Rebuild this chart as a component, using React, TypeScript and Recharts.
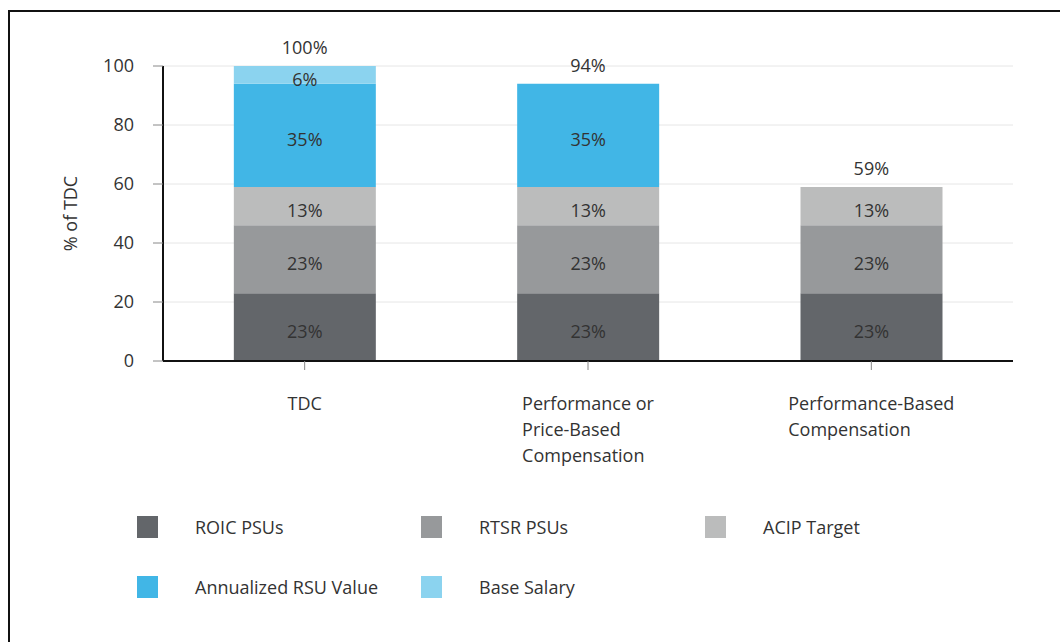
import React from 'react';
import { ComposedChart, Bar, Line, XAxis, YAxis, CartesianGrid, LabelList } from 'recharts';

// categories and their wrapped axis labels
const categories = ['TDC', 'Performance or Price-Based Compensation', 'Performance-Based Compensation'];
const categoryLines = [['TDC'], ['Performance or', 'Price-Based', 'Compensation'], ['Performance-Based', 'Compensation']];

// stacked segments, % of TDC (bottom to top)
const roicPsus = [23, 23, 23];
const rtsrPsus = [23, 23, 23];
const acipTarget = [13, 13, 13];
const rsuValue = [35, 35, 0];
const baseSalary = [6, 0, 0];
const totals = [100, 94, 59];

const yTicks = [0, 20, 40, 60, 80, 100];

const series = [
  { key: 'roic', name: 'ROIC PSUs', values: roicPsus, color: '#63666a' },
  { key: 'rtsr', name: 'RTSR PSUs', values: rtsrPsus, color: '#97999b' },
  { key: 'acip', name: 'ACIP Target', values: acipTarget, color: '#bbbcbc' },
  { key: 'rsu', name: 'Annualized RSU Value', values: rsuValue, color: '#41b6e6' },
  { key: 'base', name: 'Base Salary', values: baseSalary, color: '#8bd3ef' },
];

const data = categories.map((c, i) => {
  const row: any = { name: c, total: totals[i] };
  series.forEach(s => { row[s.key] = s.values[i]; });
  return row;
});

const FONT = '"Open Sans", sans-serif';
const TEXT = '#333';

let ctx: CanvasRenderingContext2D | null = null;
const measure = (t: string) => {
  if (!ctx) ctx = document.createElement('canvas').getContext('2d');
  if (!ctx) return t.length * 9;
  ctx.font = '18px "Open Sans"';
  return ctx.measureText(t).width;
};

const CategoryTick = (props: any) => {
  const { x, y, index } = props;
  const lines = categoryLines[index] || [];
  const w = Math.max(...lines.map(measure));
  return (
    <g>
      {lines.map((l, i) => (
        <text key={i} x={x - w / 2} y={y + 38 + i * 26} textAnchor="start" fontSize={18} fill={TEXT} fontFamily={FONT}>
          {l}
        </text>
      ))}
    </g>
  );
};

const inside = (props: any) => {
  const { x, y, width, height, value } = props;
  if (!value) return null;
  return (
    <text x={x + width / 2} y={y + height / 2 + 4} textAnchor="middle" dominantBaseline="central" fontSize={18} fill={TEXT} fontFamily={FONT}>
      {value}%
    </text>
  );
};

const YLabel = (props: any) => {
  const vb = props.viewBox || {};
  const cy = vb.y + vb.height / 2;
  return (
    <text x={70} y={cy} transform={`rotate(-90, 70, ${cy})`} textAnchor="middle" dominantBaseline="central" fontSize={18} fill={TEXT} fontFamily={FONT}>
      % of TDC
    </text>
  );
};

const App = () => {
  return (
    <div style={{ position: 'absolute', left: 0, top: 0, width: 1060, height: 642, background: '#fff', fontFamily: FONT }}>
      <div style={{ position: 'absolute', left: 8, top: 10, width: 1052, height: 632, borderTop: '2px solid #111', borderLeft: '2px solid #111' }} />
      <div style={{ position: 'absolute', left: 0, top: 0 }}>
        <ComposedChart width={1060} height={480} data={data} margin={{ top: 66, right: 47, bottom: 0, left: 0 }} barCategoryGap="25%" style={{ fontFamily: FONT }}>
          <CartesianGrid vertical={false} stroke="#e6e6e6" />
          <XAxis
            dataKey="name"
            height={119}
            tickSize={9}
            axisLine={{ stroke: '#111', strokeWidth: 2 }}
            tickLine={{ stroke: '#888' }}
            tick={<CategoryTick />}
            interval={0}
          />
          <YAxis
            width={163}
            domain={[0, 100]}
            ticks={yTicks}
            tickSize={10}
            tickMargin={19}
            axisLine={{ stroke: '#111', strokeWidth: 2 }}
            tickLine={{ stroke: '#888' }}
            tick={{ fontSize: 18, fill: TEXT, fontFamily: FONT }}
            label={<YLabel />}
          />
          {series.map(s => (
            <Bar key={s.key} dataKey={s.key} name={s.name} stackId="a" fill={s.color} isAnimationActive={false}>
              <LabelList dataKey={s.key} content={inside} />
            </Bar>
          ))}
          <Line dataKey="total" stroke="none" dot={false} activeDot={false} legendType="none" isAnimationActive={false}>
            <LabelList dataKey="total" position="top" offset={12} formatter={(v: any) => `${v}%`} style={{ fontSize: 18, fill: TEXT, fontFamily: FONT }} />
          </Line>
        </ComposedChart>
      </div>
      {series.map((s, i) => (
        <div
          key={s.key}
          style={{
            position: 'absolute',
            left: 137 + (i % 3) * 284,
            top: 516 + Math.floor(i / 3) * 60,
            height: 22,
            display: 'flex',
            alignItems: 'center',
            fontSize: 18,
            color: TEXT,
            whiteSpace: 'nowrap',
          }}
        >
          <span style={{ display: 'inline-block', width: 21, height: 22, background: s.color, marginRight: 37 }} />
          <span>{s.name}</span>
        </div>
      ))}
    </div>
  );
};

export default App;
